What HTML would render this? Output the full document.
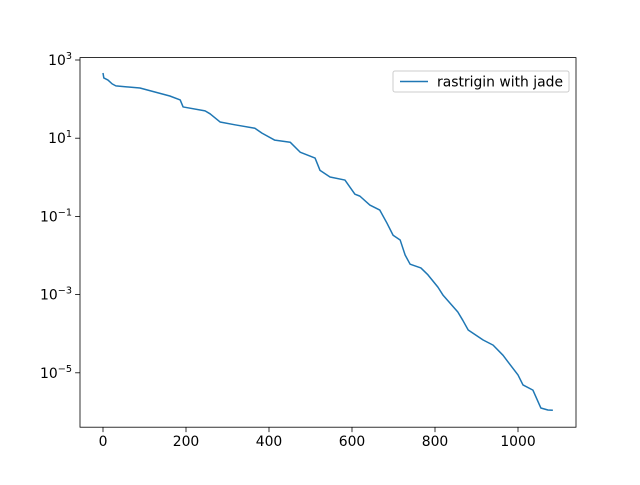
<!DOCTYPE html>
<html><head><meta charset="utf-8"><style>
body{margin:0;background:#fff;}
svg text{font-family:"DejaVu Sans","Liberation Sans",sans-serif;font-size:13.9px;fill:#000;}
</style></head><body>
<svg id="chart" width="640" height="480" xmlns="http://www.w3.org/2000/svg">
<rect width="640" height="480" fill="#fff"/>
<g id="ticks"></g>
<path id="series" fill="none" stroke="#1f77b4" stroke-width="1.5" stroke-linejoin="round"/>
<rect x="80" y="57.6" width="496" height="369.6" fill="none" stroke="#000" stroke-width="0.8"/>
<g>
<rect x="393" y="71" width="176" height="21" fill="#fff" stroke="#ccc" rx="2"/>
<line x1="400" y1="81.5" x2="428" y2="81.5" stroke="#1f77b4" stroke-width="1.5"/>
<text x="437" y="86.5">rastrigin with jade</text>
</g>
</svg>
<script>
const iters=[0,2,12,22,31,89,125,161,186,193,246,258,282,318,366,383,414,451,475,511,523,547,583,607,619,643,667,684,699,716,728,740,766,783,807,819,855,867,880,916,940,964,976,1000,1012,1036,1055,1072,1084];
const fitness=[465,347,307,245,218,192,152,120,95,63,50,42,26,22,18,13.5,8.9,7.9,4.4,3.1,1.5,1.02,0.85,0.37,0.33,0.195,0.145,0.068,0.033,0.025,0.0103,0.006,0.0048,0.0032,0.00155,0.00098,3.6e-4,2.2e-4,1.24e-4,6.9e-5,5.1e-5,2.8e-5,1.9e-5,8.8e-6,4.9e-6,3.6e-6,1.26e-6,1.12e-6,1.1e-6];
const xTicks=[0,200,400,600,800,1000];
const yTickExps=[3,1,-1,-3,-5];
const X=v=>103+v*0.415;
const Y=v=>60+(3-Math.log10(v))*39.1;
let d=`M${X(iters[0])},${Y(fitness[0])}`;
for(let i=1;i<iters.length;i++){d+=` L${X(iters[i])},${Y(fitness[i])}`;}
document.getElementById('series').setAttribute('d',d);
const g=document.getElementById('ticks');
const NS='http://www.w3.org/2000/svg';
xTicks.forEach(t=>{
 const l=document.createElementNS(NS,'line');
 l.setAttribute('x1',X(t));l.setAttribute('x2',X(t));l.setAttribute('y1',427.2);l.setAttribute('y2',432.1);l.setAttribute('stroke','#000');l.setAttribute('stroke-width','0.8');
 
 
 g.appendChild(l);
 const s=document.createElementNS(NS,'text');
 s.setAttribute('x',X(t));s.setAttribute('y',446);s.setAttribute('text-anchor','middle');s.textContent=t;
 
 
 g.appendChild(s);
});
yTickExps.forEach(e=>{
 const y=Y(Math.pow(10,e));
 const l=document.createElementNS(NS,'line');
 l.setAttribute('x1',75.1);l.setAttribute('x2',80);l.setAttribute('y1',y);l.setAttribute('y2',y);l.setAttribute('stroke','#000');l.setAttribute('stroke-width','0.8');
 
 
 g.appendChild(l);
 const s=document.createElementNS(NS,'text');
 s.setAttribute('x',72);s.setAttribute('y',y+5);s.setAttribute('text-anchor','end');
 s.innerHTML='10<tspan dy="-6" font-size="9.7">'+(e<0?'\u2212'+(-e):e)+'</tspan>';
 
 
 g.appendChild(s);
});
</script>
</body></html>
